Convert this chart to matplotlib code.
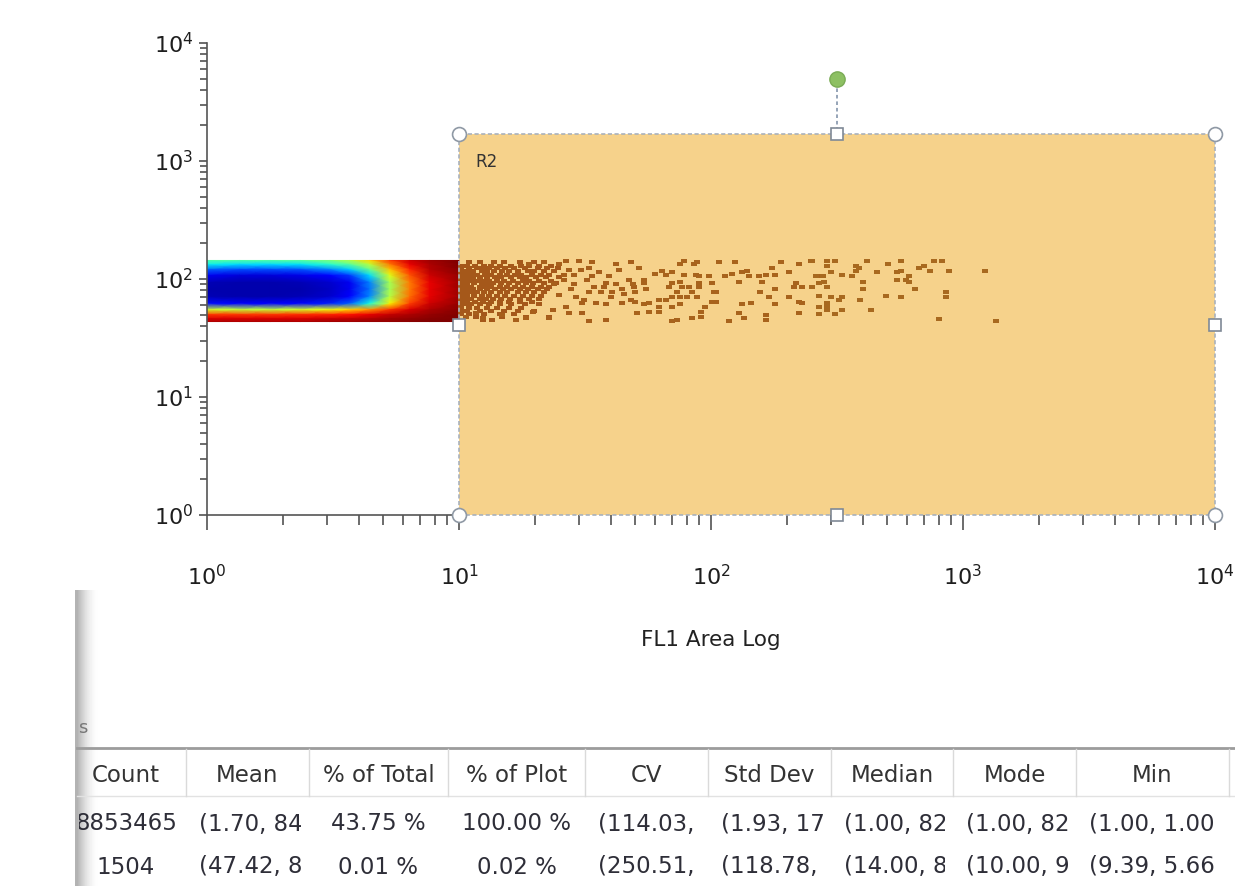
import numpy as np
import matplotlib
matplotlib.use("Agg")
import matplotlib.pyplot as plt
from matplotlib.patches import Rectangle
from matplotlib.transforms import Bbox, TransformedBbox

# ---------------- data ----------------
# density band for FL1 1..10 : node positions and jet levels (0 = dark blue, 1 = dark red)
band_x = [1.0, 1.35, 1.78, 2.34, 3.07, 3.68, 4.42, 5.31, 6.37, 7.64, 10.0]
band_y = [143.6, 132.8, 120.4, 107.1, 93.4, 81.5, 71.0, 61.9, 55.1, 49.9, 46.2, 43.6]
band_level = [
    [0.45, 0.45, 0.45, 0.46, 0.50, 0.56, 0.68, 0.84, 0.93, 0.97, 1.00],
    [0.36, 0.34, 0.34, 0.35, 0.40, 0.46, 0.58, 0.78, 0.91, 0.96, 1.00],
    [0.22, 0.20, 0.20, 0.21, 0.26, 0.33, 0.48, 0.70, 0.87, 0.95, 0.99],
    [0.10, 0.08, 0.08, 0.09, 0.12, 0.18, 0.34, 0.62, 0.82, 0.93, 0.98],
    [0.05, 0.04, 0.04, 0.05, 0.07, 0.10, 0.25, 0.55, 0.78, 0.91, 0.97],
    [0.04, 0.04, 0.04, 0.04, 0.06, 0.10, 0.24, 0.55, 0.78, 0.91, 0.97],
    [0.05, 0.04, 0.04, 0.05, 0.07, 0.11, 0.26, 0.57, 0.79, 0.91, 0.97],
    [0.14, 0.12, 0.12, 0.13, 0.16, 0.22, 0.38, 0.65, 0.84, 0.93, 0.98],
    [0.60, 0.58, 0.58, 0.60, 0.63, 0.68, 0.75, 0.85, 0.92, 0.96, 0.99],
    [0.85, 0.85, 0.85, 0.86, 0.87, 0.89, 0.91, 0.94, 0.96, 0.98, 1.00],
    [0.92, 0.92, 0.92, 0.92, 0.93, 0.94, 0.95, 0.97, 0.98, 0.99, 1.00],
    [0.96, 0.96, 0.96, 0.96, 0.97, 0.97, 0.98, 0.98, 0.99, 1.00, 1.00],
]

# gated events in R2 : dense core (one FL1 list per FL2 row)
core_y = [138, 130, 123, 116, 109, 103, 97, 92, 86, 81.5, 77, 72, 68, 64, 61, 57, 54, 51, 48, 45]
core_x = [
    [11.0, 12.1, 13.8, 15.1, 17.4, 19.9, 21.8],
    [10.2, 10.8, 11.6, 12.6, 13.4, 14.5, 16.1, 17.7, 19.0, 20.8, 23.2],
    [10.2, 11.0, 11.8, 12.4, 13.2, 14.1, 15.2, 16.6, 18.2, 20.5, 22.4, 24.6],
    [10.2, 10.8, 11.4, 12.3, 12.9, 13.8, 14.8, 15.8, 17.1, 18.7, 19.9, 21.8, 23.9],
    [10.2, 10.6, 11.2, 11.8, 12.7, 13.4, 14.5, 15.5, 16.7, 17.7, 19.4, 21.2, 22.8],
    [10.2, 10.8, 11.4, 12.1, 12.9, 13.9, 14.7, 16.1, 17.4, 18.5, 20.3, 22.2, 25.0],
    [10.2, 10.6, 11.2, 11.8, 12.5, 13.2, 14.1, 15.1, 16.4, 17.9, 19.0, 20.8, 23.2],
    [10.2, 10.8, 11.5, 12.3, 12.9, 13.6, 14.7, 15.8, 17.1, 18.4, 19.7, 21.8, 24.3],
    [10.2, 10.6, 11.2, 12.1, 12.7, 13.4, 14.5, 15.5, 16.7, 18.0, 19.4, 21.2, 22.8],
    [10.2, 10.8, 11.4, 12.1, 12.9, 13.9, 14.9, 16.1, 17.4, 18.7, 20.5, 22.4],
    [10.2, 10.6, 11.2, 11.8, 12.6, 13.4, 14.5, 15.5, 17.1, 18.4, 19.9, 21.8],
    [10.2, 10.8, 11.5, 12.3, 13.2, 14.1, 15.2, 16.6, 18.0, 19.4, 21.2],
    [10.2, 10.6, 11.2, 12.1, 12.8, 13.6, 14.7, 15.9, 17.4, 19.0, 20.8],
    [10.2, 10.8, 11.6, 12.5, 13.4, 14.5, 15.8, 17.4, 19.4],
    [10.2, 10.6, 11.2, 12.1, 13.2, 14.5, 16.1, 18.2, 20.8],
    [10.2, 11.0, 11.8, 12.9, 14.1, 15.8, 17.7],
    [10.2, 10.8, 12.1, 13.4, 15.1, 17.1, 19.9],
    [10.2, 11.0, 12.6, 14.5, 16.6],
    [10.7, 11.7, 14.8, 18.5, 22.8],
    [12.4, 13.5, 16.9],
]

# gated events: medium-density zone (FL1 ~ 10-50)
mid_x = [25.0, 26.7, 30.0, 27.3, 30.6, 33.8, 36.0, 38.4, 41.9, 47.3, 49.6, 44.4, 40.4, 36.7, 32.8,
         29.1, 30.9, 35.1, 38.4, 44.4, 48.3, 26.7, 23.5, 27.3, 30.9, 22.8, 38.4, 32.8, 18.5, 16.9,
         12.4, 14.8, 19.6, 10.7, 11.7, 48.3, 41.9, 33.8, 21.8, 19.0, 26.1, 28.6, 32.2, 27.8, 34.4,
         39.4, 43.2, 25.0, 31.4, 26.1, 40.0, 45.2, 23.9, 28.6, 32.8, 37.7]
mid_y = [133, 141, 141, 120, 120, 105, 114, 93, 90, 99, 86, 81.5, 77, 78, 77,
         71, 63, 63, 61, 63, 67, 58, 55, 52, 52, 47, 45, 44, 47, 45,
         47, 50, 53, 48, 52, 138, 133, 138, 138, 133, 99, 90, 99, 81.5, 85,
         105, 120, 73, 67, 109, 71, 74, 90, 109, 125, 85]

# gated events: sparse zone (FL1 ~ 50-260)
tail_x = [52, 54, 49, 54, 50, 50, 55, 60, 64, 66, 70, 75, 78, 78, 86, 88, 87, 90, 70, 75,
          77, 73, 68, 82, 84, 90, 90, 98, 101, 103, 105, 101, 105, 70, 62, 66, 75, 80, 88, 57,
          62, 62, 70, 75, 91, 91, 84, 73, 70, 51, 108, 125, 121, 114, 133, 139, 141, 129, 155, 160,
          165, 175, 190, 180, 204, 223, 249, 218, 213, 229, 251, 263, 157, 170, 180, 180, 133, 144, 129, 135,
          165, 166, 204, 223, 229, 223, 118, 95, 54, 57]
tail_y = [125, 99, 90, 93, 77, 64, 81.5, 111, 118, 109, 114, 133, 141, 109, 133, 138, 109, 105, 93, 95,
          86, 78, 86, 85, 78, 86, 93, 105, 93, 78, 77, 64, 64, 70, 67, 67, 70, 70, 70, 63,
          58, 53, 58, 61, 53, 48, 47, 45, 44, 52, 138, 138, 111, 105, 114, 116, 105, 95, 105, 95,
          109, 125, 138, 109, 114, 133, 141, 93, 85, 86, 86, 105, 77, 70, 81.5, 61, 61, 63, 52, 47,
          50, 45, 70, 64, 63, 52, 44, 58, 61, 53]

# gated events: far tail (FL1 ~ 250-1400)
far_x = [251, 288, 310, 415, 503, 570, 764, 822, 288, 375, 386, 375, 698, 667, 743, 877, 1228,
         300, 454, 330, 545, 570, 260, 278, 362, 608, 545, 592, 612, 281, 268, 251, 288, 400, 400,
         643, 853, 268, 299, 321, 330, 390, 493, 570, 853, 288, 268, 288, 288, 330, 430, 268, 310,
         800, 1358]
far_y = [141, 141, 141, 141, 135, 141, 141, 141, 130, 130, 125, 118, 130, 125, 118, 118, 118,
         114, 114, 109, 114, 118, 105, 105, 105, 105, 99, 99, 95, 95, 92, 86, 86, 95, 83,
         83, 78, 72, 70, 66, 70, 66, 72, 70, 70, 63, 58, 58, 55, 55, 55, 51, 51,
         46, 44.4]

# region R2 (FL1 range, FL2 range)
r2_x = [10, 10000]
r2_y = [1, 1690]
r2_name = "R2"

x_label = "FL1 Area Log"

# statistics table
stat_headers = ["Count", "Mean", "% of Total", "% of Plot", "CV", "Std Dev", "Median", "Mode", "Min"]
stat_row1 = ["8853465", "(1.70, 84", "43.75 %", "100.00 %", "(114.03,", "(1.93, 17",
             "(1.00, 82", "(1.00, 82", "(1.00, 1.00"]
stat_row2 = ["1504", "(47.42, 88", "0.01 %", "0.02 %", "(250.51,", "(118.78,",
             "(14.00, 85", "(10.00, 95", "(9.39, 5.66"]
truncated = [False, True, False, False, True, True, True, True, True]

# ---------------- figure ----------------
W, H = 1235, 886
fig = plt.figure(figsize=(W / 100, H / 100), dpi=100)
fig.patch.set_facecolor("white")

# table / panel layer (pixel coordinates, origin top-left)
tax = fig.add_axes([0, 0, 1, 1], zorder=0)
tax.set_xlim(0, W)
tax.set_ylim(H, 0)
tax.set_axis_off()

# main plot
ax = fig.add_axes([207 / W, (H - 515) / H, (1215 - 207) / W, (515 - 43) / H], zorder=1)
ax.set_xscale("log")
ax.set_yscale("log")
ax.set_xlim(1, 1e4)
ax.set_ylim(1, 1e4)
ax.patch.set_alpha(0)

# density band (jet)
BX, BY = np.meshgrid(band_x, band_y)
ax.pcolormesh(BX, BY, np.array(band_level), shading="gouraud", cmap="jet",
              vmin=0, vmax=1, zorder=2)

# R2 region fill
ax.add_patch(Rectangle((r2_x[0], r2_y[0]), r2_x[1] - r2_x[0], r2_y[1] - r2_y[0],
                       facecolor="#f6d28b", edgecolor="none", zorder=1, clip_on=False))

# gated events
cx, cy = [], []
for yv, xs in zip(core_y, core_x):
    cx.extend(xs)
    cy.extend([yv] * len(xs))
dash = [(-1, -0.6), (1, -0.6), (1, 0.6), (-1, 0.6)]
ax.scatter(cx, cy, s=21, marker=dash, color="#a5581a", linewidths=0, zorder=3)
ax.scatter(mid_x, mid_y, s=16, marker=dash, color="#a75f1b", linewidths=0, zorder=3)
ax.scatter(tail_x, tail_y, s=15, marker=dash, color="#a8631c", linewidths=0, zorder=3)
ax.scatter(far_x, far_y, s=13, marker=dash, color="#a8691f", linewidths=0, zorder=3)

# R2 border
ax.add_patch(Rectangle((r2_x[0], r2_y[0]), r2_x[1] - r2_x[0], r2_y[1] - r2_y[0],
                       fill=False, edgecolor="#a9b1bc", lw=1.2, ls=(0, (2.5, 1.5)),
                       zorder=5, clip_on=False))

# handles
xm = np.sqrt(r2_x[0] * r2_x[1])
ym = np.sqrt(r2_y[0] * r2_y[1])
ax.plot([r2_x[0], r2_x[1], r2_x[0], r2_x[1]], [r2_y[1], r2_y[1], r2_y[0], r2_y[0]], "o",
        ms=10, mfc="white", mec="#8f99a5", mew=1.2, clip_on=False, zorder=7)
ax.plot([xm, r2_x[0], r2_x[1], xm], [r2_y[1], ym, ym, r2_y[0]], "s",
        ms=8, mfc="white", mec="#7f8996", mew=1.2, clip_on=False, zorder=7)
rot_y = 4950
ax.plot([xm, xm], [r2_y[1] * 1.06, rot_y / 1.1], ls=(0, (2, 1.6)), color="#8d9db2",
        lw=1.3, zorder=6)
ax.plot([xm], [rot_y], "o", ms=11, mfc="#8dc063", mec="#7aab55", mew=1.0, zorder=7)
ax.text(11.6, 975, r2_name, fontsize=12, color="#333333", va="center", ha="left", zorder=8)

# axes styling
for side in ["top", "right"]:
    ax.spines[side].set_visible(False)
for side in ["left", "bottom"]:
    ax.spines[side].set_color("#555555")
    ax.spines[side].set_linewidth(1.2)
ax.spines["bottom"].set_bounds(1, 10)
ax.tick_params(axis="x", which="major", length=11, width=1.1, color="#444444",
               pad=24, labelsize=16, labelcolor="#1e1e1e")
ax.tick_params(axis="x", which="minor", length=7, width=1.1, color="#444444")
ax.tick_params(axis="y", which="major", length=6, width=1.1, color="#444444",
               pad=4, labelsize=16, labelcolor="#1e1e1e")
ax.tick_params(axis="y", which="minor", length=5, width=1.1, color="#444444")
ax.set_xlabel(x_label, fontsize=15.5, color="#222222", labelpad=30)

# ---------------- statistics panel ----------------
# panel edge shadow
tax.imshow(np.array([[0.70, 0.80, 0.89, 0.95, 0.99, 1.0]]), extent=(75, 102, H, 590),
           cmap="gray", vmin=0, vmax=1, aspect="auto", interpolation="bilinear", zorder=1)
tax.set_xlim(0, W)
tax.set_ylim(H, 0)
tax.text(78, 728, "s", fontsize=13, color="#777777", va="center", ha="left", zorder=2)

seps = [77, 186, 309, 448, 585, 708, 831, 953, 1076, 1229]
y_top, y_head_bot = 748, 796
y_head, y_r1, y_r2 = 775, 824, 867
count_center = 126

tax.plot([77, W], [y_top, y_top], color="#9c9c9c", lw=2, zorder=3)
tax.plot([77, W], [y_head_bot, y_head_bot], color="#e2e2e2", lw=1, zorder=3)
for s in seps[1:]:
    tax.plot([s, s], [y_top + 1, y_head_bot], color="#dadada", lw=1, zorder=3)

fs_tab = 16.5
for i, h in enumerate(stat_headers):
    x0, x1 = seps[i], seps[i + 1]
    xc = count_center if i == 0 else (x0 + x1) / 2
    tax.text(xc, y_head, h, fontsize=fs_tab, color="#333333", ha="center", va="center", zorder=4)
    for yv, row in ((y_r1, stat_row1), (y_r2, stat_row2)):
        if truncated[i]:
            t = tax.text(x0 + 13, yv, row[i], fontsize=fs_tab, color="#2e2e38",
                         ha="left", va="center", zorder=4)
        else:
            t = tax.text(xc, yv, row[i], fontsize=fs_tab, color="#2e2e38",
                         ha="center", va="center", zorder=4)
        left = 79 if i == 0 else x0
        clip = TransformedBbox(Bbox([[left, 0], [x1 - 8, H]]), tax.transData)
        t.set_clip_box(clip)
        t.set_clip_on(True)

fig.savefig("out.png", dpi=100, facecolor="white")
